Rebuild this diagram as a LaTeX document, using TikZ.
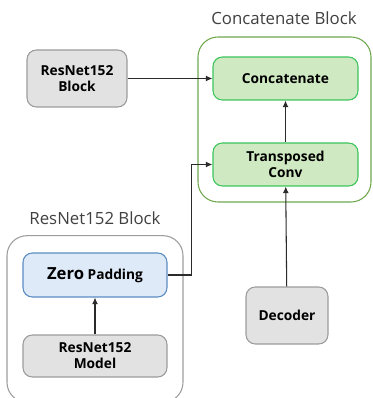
\documentclass[tikz,border=0pt]{standalone}
\usepackage{fontspec}
\setmainfont{Open Sans}
\usetikzlibrary{arrows.meta}
\definecolor{greyfill}{HTML}{E2E2E2}
\definecolor{greyline}{HTML}{9C9C9C}
\definecolor{greenfill}{HTML}{CFEAC2}
\definecolor{greenline}{HTML}{3DC55C}
\definecolor{blockgreen}{HTML}{6FA84E}
\definecolor{bluefill}{HTML}{DFEAF8}
\definecolor{blueline}{HTML}{5B8CC2}
\definecolor{wire}{HTML}{2B2B2B}
\tikzset{
  box/.style={draw, rounded corners=7pt, line width=0.8pt, align=center,
    font=\bfseries\fontsize{10.3}{12}\selectfont},
  greybox/.style={box, draw=greyline, fill=greyfill},
  greenbox/.style={box, draw=greenline, fill=greenfill,
    minimum width=108.75pt, minimum height=32.25pt},
  bluebox/.style={box, draw=blueline, fill=bluefill,
    minimum width=108pt, minimum height=33pt},
  container/.style={draw, rounded corners=15pt, line width=0.8pt},
  title/.style={font=\fontsize{12.6}{14}\selectfont, text=black!75},
  wire/.style={draw=wire, line width=0.8pt, -{Latex[length=5pt,width=4.5pt]}}
}

\begin{document}
\begin{tikzpicture}[x=0.75pt, y=-0.75pt]
    \useasboundingbox (0,0) rectangle (372,398);

    \node[container, draw=blockgreen, minimum width=129.75pt, minimum height=123.75pt] (concatblock) at (284.5,119.5) {};
    \node[container, draw=greyline, minimum width=132pt, minimum height=125pt] (resblock) at (95,319) {};
    \node[title] (concattitle) at (284,18) {Concatenate Block};
    \node[title] (restitle) at (95,218) {ResNet152 Block};

    \node[greybox, minimum width=75pt, minimum height=42.75pt] (resnet) at (77,78.5) {ResNet152\\Block};
    \node[greenbox] (concat) at (285.5,78.5) {Concatenate};
    \node[greenbox] (trans) at (285.5,164.5) {Transposed\\Conv};
    \node[bluebox] (zero) at (95,275) {{\fontsize{12.5}{14}\selectfont Zero} Padding};
    \node[greybox, minimum width=108pt, minimum height=31.5pt] (model) at (95,356) {ResNet152\\Model};
    \node[greybox, minimum width=61.5pt, minimum height=42.75pt] (decoder) at (287,315.5) {Decoder};

    \draw[wire] (resnet) -- (concat);
    \draw[wire] (trans) -- (concat);
    \draw[wire] (decoder) -- (trans);
    \draw[wire] (model) -- (zero);
    \draw[wire] (zero.east) -- ++(24,0) |- (trans.west);

  \end{tikzpicture}
\end{document}
